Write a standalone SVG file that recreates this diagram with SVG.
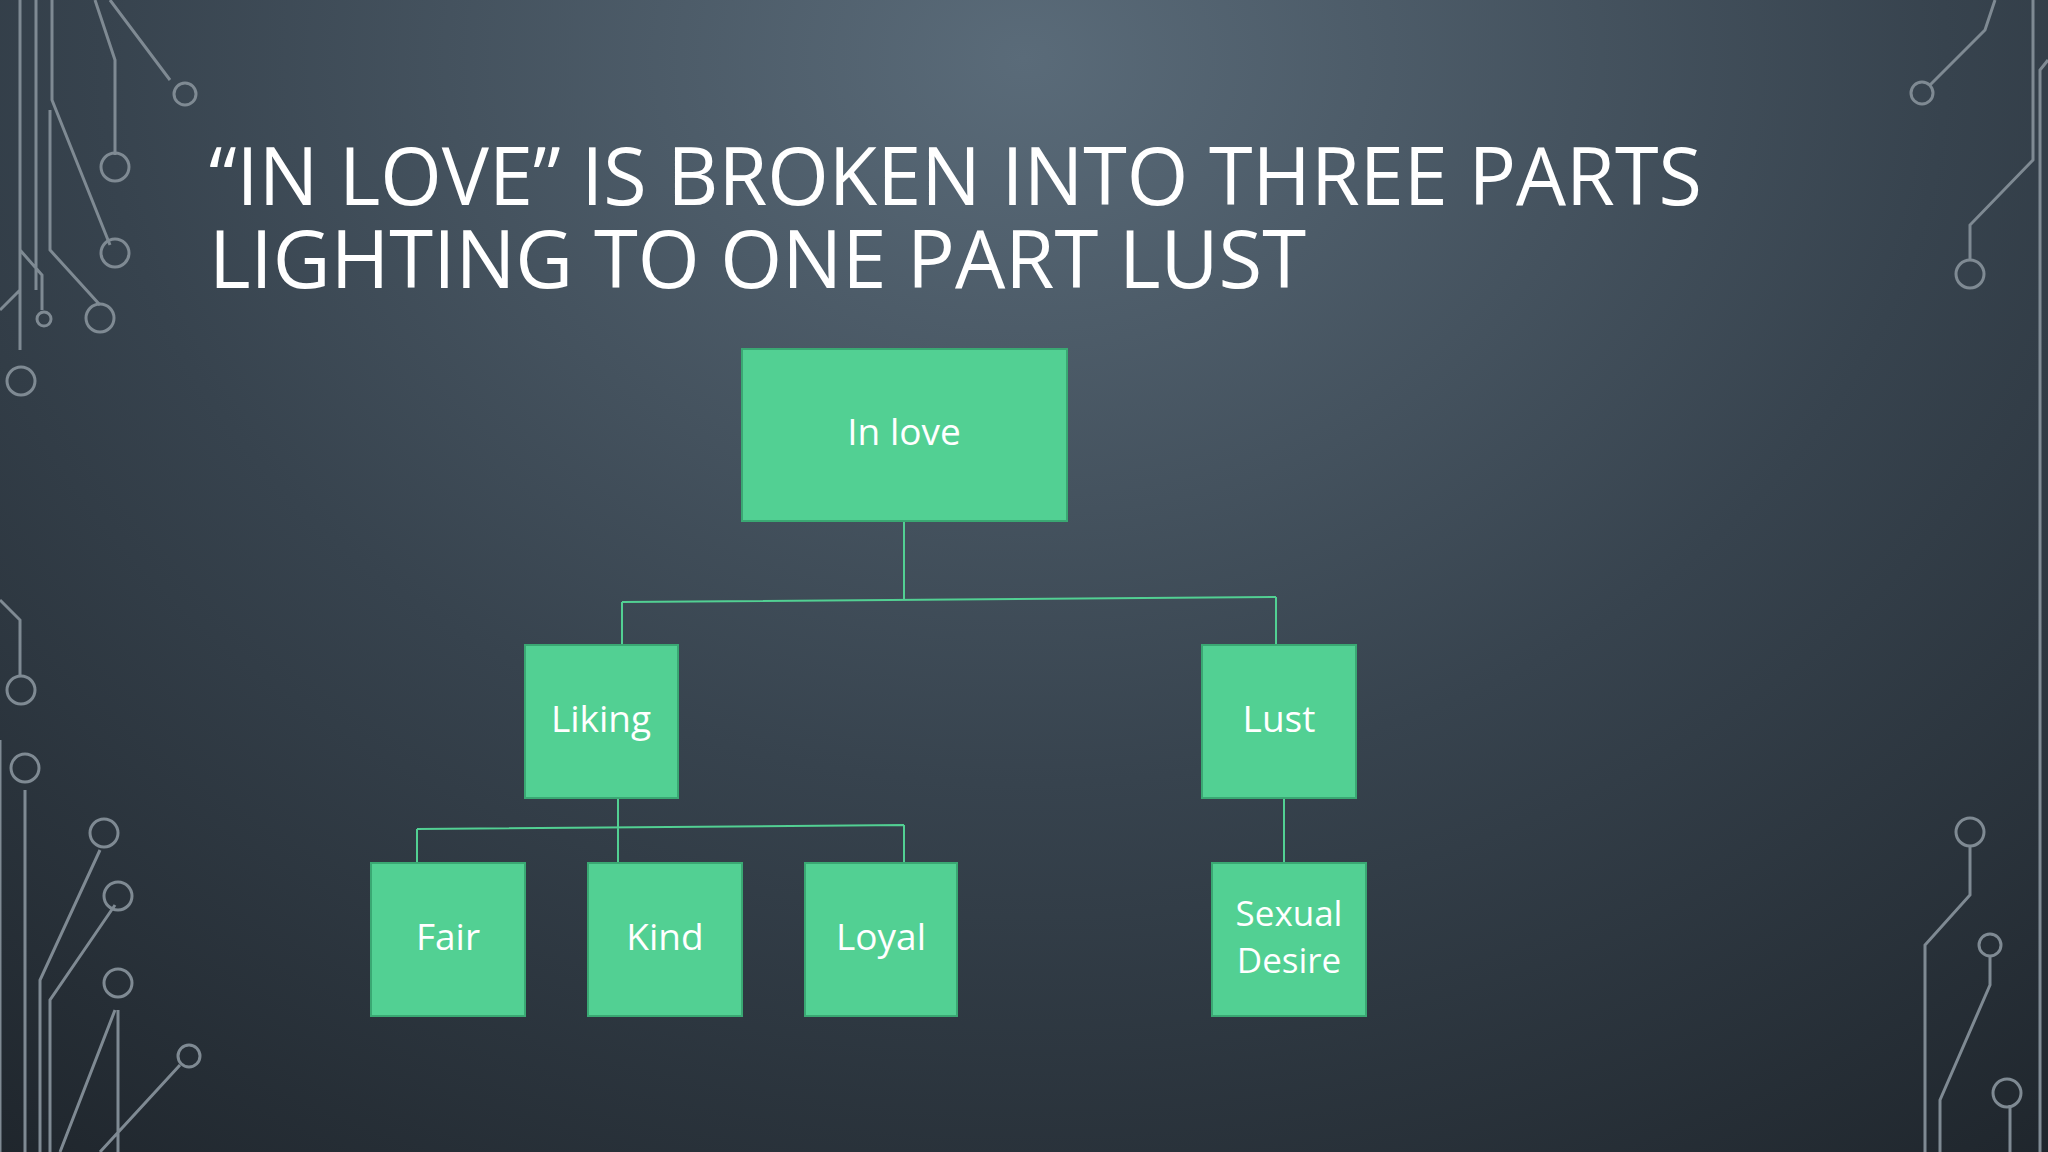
<svg xmlns="http://www.w3.org/2000/svg" width="2048" height="1152" viewBox="0 0 2048 1152">
<defs>
<radialGradient id="bg" cx="0.5" cy="0.05" r="0.9" gradientTransform="translate(0.5 0.05) scale(1 1.4) translate(-0.5 -0.05)">
<stop offset="0" stop-color="#5a6b79"/>
<stop offset="0.5" stop-color="#37434e"/>
<stop offset="1" stop-color="#1c2228"/>
</radialGradient>
<style>
.box{fill:#52d093;stroke:#3aa873;stroke-width:2}
.lbl{font-family:"Open Sans","Noto Sans",sans-serif;font-size:37px;fill:#ffffff;text-anchor:middle}
.sm{font-size:35px}
.ttl{font-family:"Open Sans","Noto Sans",sans-serif;font-size:80px;fill:#ffffff}
.con{stroke:#52d093;stroke-width:2;fill:none}
.ckt{stroke:#7f8a93;stroke-width:3;fill:none}
</style>
</defs>
<rect width="2048" height="1152" fill="url(#bg)"/>
<g id="circuit-left" class="ckt">
<path d="M20 0 V350 M36 0 V290 M52 0 V100 L110 245 M50 110 V250 L100 305 M95 0 L115 60 V155 M110 0 L170 80 M20 250 L42 275 V310 M0 310 L20 290 M0 600 L20 620 V675 M0 740 V1152 M25 790 V1152 M40 1152 V980 L100 850 M50 1152 V1000 L115 905 M60 1152 L115 1010 M100 1152 L180 1065 M118 1010 V1152"/>
<circle cx="185" cy="94" r="11"/><circle cx="115" cy="167" r="14"/><circle cx="115" cy="253" r="14"/><circle cx="100" cy="318" r="14"/><circle cx="44" cy="319" r="7"/><circle cx="21" cy="381" r="14"/><circle cx="21" cy="690" r="14"/><circle cx="25" cy="768" r="14"/><circle cx="104" cy="833" r="14"/><circle cx="118" cy="896" r="14"/><circle cx="118" cy="983" r="14"/><circle cx="189" cy="1056" r="11"/>
</g>
<g id="circuit-right" class="ckt">
<path d="M1995 0 L1985 30 L1930 85 M2033 0 V160 L1970 225 V260 M2048 60 L2040 70 V1152 M1970 845 V895 L1925 945 V1152 M1990 955 V985 L1940 1100 V1152 M2010 1152 V1105"/>
<circle cx="1922" cy="93" r="11"/><circle cx="1970" cy="274" r="14"/><circle cx="1970" cy="832" r="14"/><circle cx="1990" cy="945" r="11"/><circle cx="2007" cy="1093" r="14"/>
</g>
<g id="title">
<text class="ttl" x="209" y="205" textLength="1493" lengthAdjust="spacingAndGlyphs">“IN LOVE” IS BROKEN INTO THREE PARTS</text>
<text class="ttl" x="209" y="288" textLength="1097" lengthAdjust="spacingAndGlyphs">LIGHTING TO ONE PART LUST</text>
</g>
<g id="connectors" class="con">
<path d="M904 521 V600 M622 602 L1276 597 M622 602 V645 M1276 597 V645"/>
<path d="M618 798 V863 M417 829 L904 825 M417 829 V863 M904 825 V863"/>
<path d="M1284 798 V863"/>
</g>
<g id="n-inlove"><rect class="box" x="742" y="349" width="325" height="172"/><text class="lbl" x="904" y="445">In love</text></g>
<g id="n-liking"><rect class="box" x="525" y="645" width="153" height="153"/><text class="lbl" x="601" y="732">Liking</text></g>
<g id="n-lust"><rect class="box" x="1202" y="645" width="154" height="153"/><text class="lbl" x="1279" y="732">Lust</text></g>
<g id="n-fair"><rect class="box" x="371" y="863" width="154" height="153"/><text class="lbl" x="448" y="950">Fair</text></g>
<g id="n-kind"><rect class="box" x="588" y="863" width="154" height="153"/><text class="lbl" x="665" y="950">Kind</text></g>
<g id="n-loyal"><rect class="box" x="805" y="863" width="152" height="153"/><text class="lbl" x="881" y="950">Loyal</text></g>
<g id="n-sexual"><rect class="box" x="1212" y="863" width="154" height="153"/><text class="lbl sm" x="1289" y="926">Sexual</text><text class="lbl sm" x="1289" y="973">Desire</text></g>
</svg>
